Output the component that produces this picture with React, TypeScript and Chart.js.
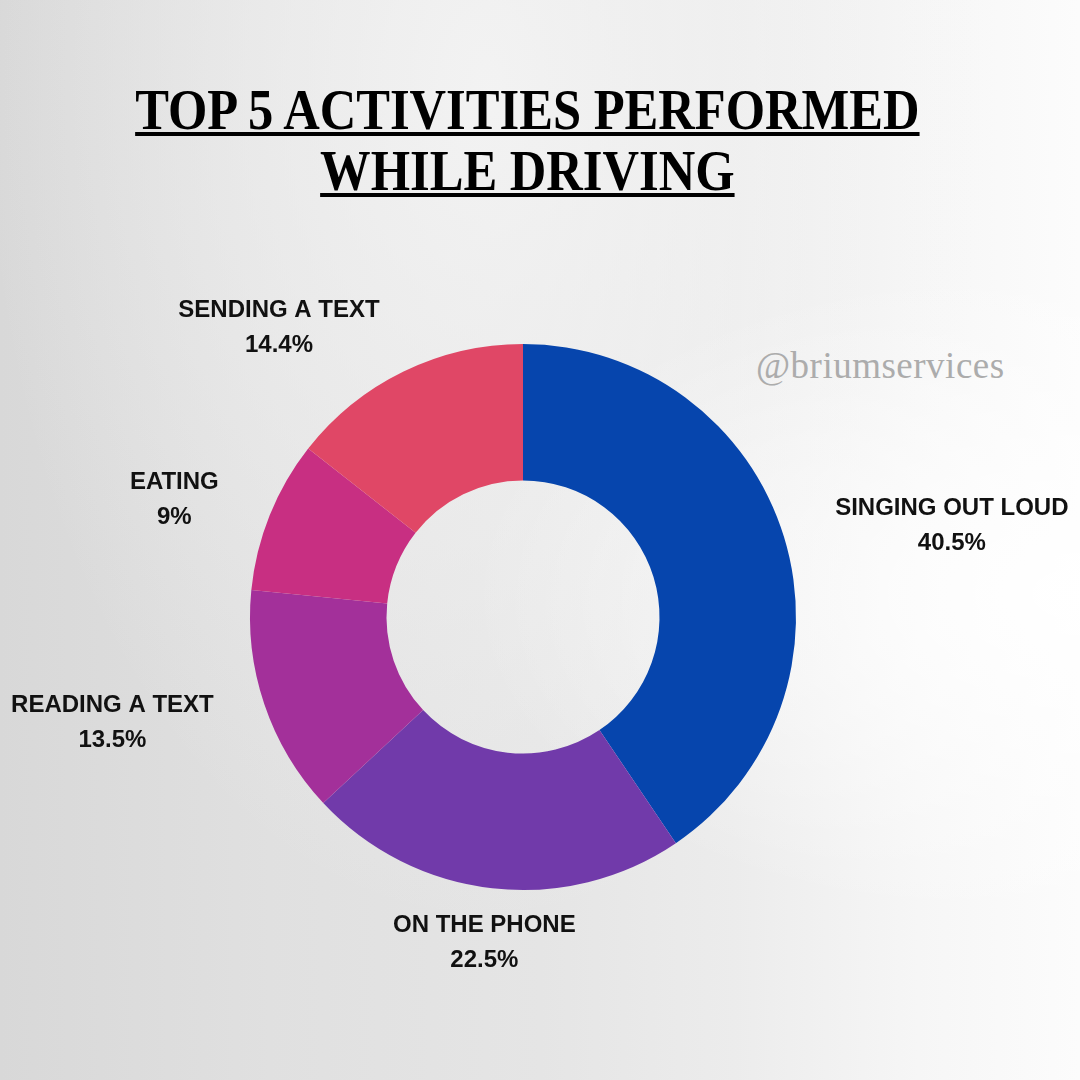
import React, { useEffect, useRef } from "react";
import { Chart, registerables } from "chart.js";

Chart.register(...registerables);

const categories = ["SINGING OUT LOUD", "ON THE PHONE", "READING A TEXT", "EATING", "SENDING A TEXT"];
const values = [40.5, 22.5, 13.5, 9, 14.4];
const valueLabels = ["40.5%", "22.5%", "13.5%", "9%", "14.4%"];
const colors = ["#0645AD", "#713AAA", "#A3309A", "#C82F82", "#E04766"];

const labelNudge = [
  [18, 9],
  [7, -15],
  [-18, -4],
  [-17, 10],
  [-63, 19],
];

const labelPlugin = {
  id: "outerLabels",
  afterDraw(chart: any) {
    const ctx = chart.ctx;
    const meta = chart.getDatasetMeta(0);
    ctx.save();
    ctx.fillStyle = "#111111";
    ctx.font = "bold 24px 'Liberation Sans', Arial, sans-serif";
    ctx.textAlign = "center";
    ctx.textBaseline = "middle";
    meta.data.forEach((arc: any, i: number) => {
      const { x, y, startAngle, endAngle, outerRadius } = arc.getProps(
        ["x", "y", "startAngle", "endAngle", "outerRadius"],
        true
      );
      const mid = (startAngle + endAngle) / 2;
      const dx = Math.cos(mid);
      const dy = Math.sin(mid);
      const w = Math.max(ctx.measureText(categories[i]).width, ctx.measureText(valueLabels[i]).width);
      const r = outerRadius + 40;
      const cx = x + dx * r + dx * (w / 2) + labelNudge[i][0];
      const cy = y + dy * r + dy * 30 + labelNudge[i][1];
      ctx.fillText(categories[i], cx, cy - 17);
      ctx.fillText(valueLabels[i], cx, cy + 18);
    });
    ctx.restore();
  },
};

export default function App() {
  const ref = useRef<HTMLCanvasElement>(null);
  useEffect(() => {
    document.body.style.margin = "0";
    const chart = new Chart(ref.current as HTMLCanvasElement, {
      type: "doughnut",
      data: {
        labels: categories,
        datasets: [
          {
            data: values,
            backgroundColor: colors,
            borderWidth: 0,
          },
        ],
      },
      options: {
        responsive: false,
        animation: false,
        cutout: "50%",
        layout: { padding: { left: 250, right: 284, top: 344, bottom: 190 } },
        plugins: {
          legend: { display: false },
          tooltip: { enabled: false },
        },
      },
      plugins: [labelPlugin],
    });
    return () => chart.destroy();
  }, []);

  return (
    <div
      style={{
        position: "absolute",
        left: 0,
        top: 0,
        width: 1080,
        height: 1080,
        overflow: "hidden",
        background:
          "radial-gradient(ellipse at 100% 55%, rgba(255,255,255,0.95) 0%, rgba(255,255,255,0) 40%), radial-gradient(ellipse at 45% 8%, rgba(244,244,244,0.9) 0%, rgba(244,244,244,0) 60%), linear-gradient(90deg, #d8d8d8 0%, #e0e0e0 25%, #e5e5e5 50%, #ececec 68%, #f6f6f6 85%, #fcfcfc 100%)",
      }}
    >
      <div
        style={{
          position: "absolute",
          top: 80,
          left: -13,
          width: 1080,
          textAlign: "center",
        }}
      >
        <span
          style={{
            display: "inline-block",
            transform: "scaleX(0.903)",
            fontFamily: "'Liberation Serif', 'Times New Roman', serif",
            fontWeight: "bold",
            fontSize: 56,
            lineHeight: "61px",
            color: "#000",
            textDecoration: "underline",
            textDecorationThickness: "4px",
            textUnderlineOffset: "3px",
          }}
        >
          TOP 5 ACTIVITIES PERFORMED
          <br />
          WHILE DRIVING
        </span>
      </div>
      <div
        style={{
          position: "absolute",
          left: 756,
          top: 344,
          fontFamily: "'Liberation Serif', serif",
          fontSize: 37,
          color: "#acacac",
          letterSpacing: "0.5px",
          whiteSpace: "nowrap",
        }}
      >
        @briumservices
      </div>
      <canvas ref={ref} width={1080} height={1080} style={{ position: "absolute", left: 0, top: 0 }} />
    </div>
  );
}
